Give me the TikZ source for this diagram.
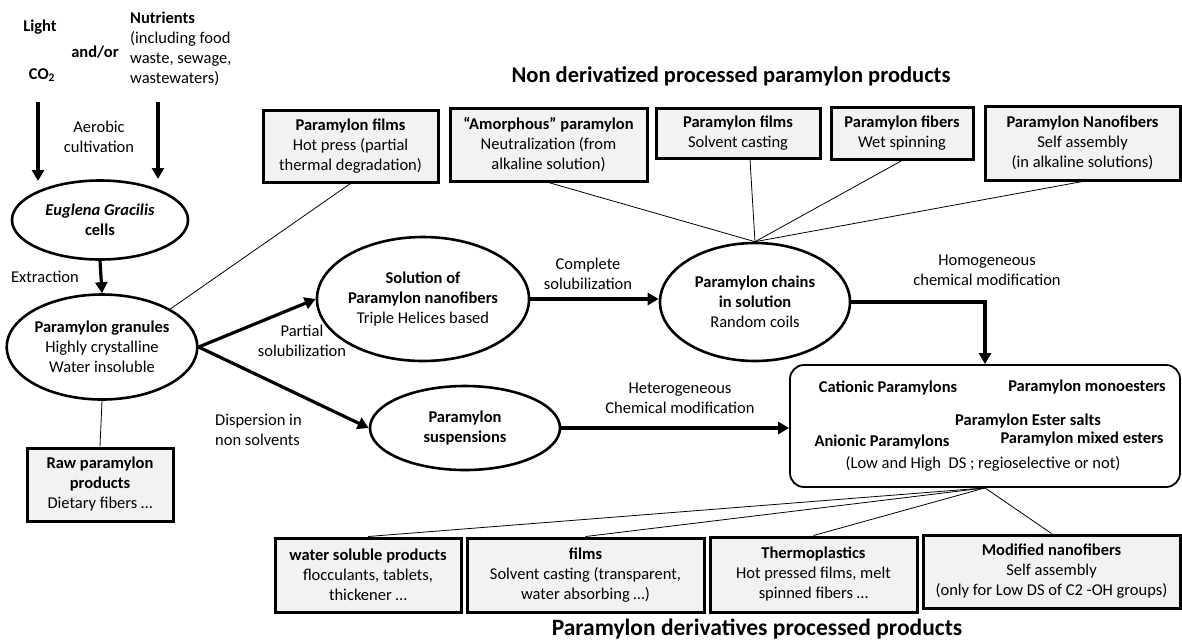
\documentclass[tikz,border=0pt]{standalone}
\usepackage{fontspec}
\setmainfont{Carlito}
\usetikzlibrary{arrows.meta,shapes.geometric,positioning}
\definecolor{boxgray}{HTML}{F2F2F2}

\begin{document}
\begin{tikzpicture}[x=1pt,y=-1pt,
  font=\fontsize{16.5}{20}\selectfont,
  prodbox/.style={rectangle,draw,line width=3pt,fill=boxgray,align=center,inner sep=0pt},
  stage/.style={ellipse,draw,line width=2.6pt,align=center,inner sep=0pt},
  link/.style={line width=0.8pt},
  flow/.style={line width=3.2pt,-{Triangle[length=11pt,width=12pt]}},
  lbl/.style={align=center,inner sep=0pt},
  bold/.style={font=\fontsize{16.5}{20}\selectfont\bfseries},
  heading/.style={font=\fontsize{22.5}{26}\selectfont\bfseries}]
\useasboundingbox (0,0) rectangle (1182,641);

% Culture inputs
\node[lbl,bold] (light) at (40,27) {Light};
\node[lbl,bold] (co2) at (42,75) {CO\textsubscript{2}};
\node[lbl,bold] (andor) at (95,52) {and/or};
\node[lbl,align=left,anchor=north west] (nutr) at (130,12) {\textbf{Nutrients}\\(including food\\waste, sewage,\\wastewaters)};
\coordinate (lightend) at (38,181);
\coordinate (nutend) at (158,179);
\draw[flow] (38,102) -- (lightend);
\draw[flow] (158,102) -- (nutend);
\node[lbl] (aerob) at (99,137) {Aerobic\\cultivation};

% Cells and granules
\node[stage,minimum width=176,minimum height=79] (euglena) at (100,220) {\textbf{\textit{Euglena Gracilis}}\\\textbf{cells}};
\node[stage,minimum width=185,minimum height=105] (granules) at (102,347) {\textbf{Paramylon granules}\\Highly crystalline\\Water insoluble};
\draw[flow] (euglena.south) -- (granules.north);
\node[lbl] (extr) at (45,277) {Extraction};
\node[prodbox,minimum width=146,minimum height=73] (raw) at (100,484.5) {\textbf{Raw paramylon}\\\textbf{products}\\Dietary fibers \dots};
\draw[link] (granules.south) -- (raw.north);

% Intermediate states
\node[stage,minimum width=190,minimum height=124] (solution) at (423,299) {\textbf{Solution of}\\\textbf{Paramylon nanofibers}\\Triple Helices based};
\node[stage,minimum width=190,minimum height=118] (chains) at (755,302) {\textbf{Paramylon chains}\\\textbf{in solution}\\Random coils};
\node[stage,minimum width=190,minimum height=84] (susp) at (465,428) {\textbf{Paramylon}\\\textbf{suspensions}};
\draw[flow] (granules.east) -- (solution.west);
\draw[flow] (granules.east) -- (susp.west);
\draw[flow] (solution.east) -- (solution.east -| chains.west);
\node[lbl] (partsol) at (302,341) {Partial\\solubilization};
\node[lbl,align=left,anchor=west] (disp) at (215,430) {Dispersion in\\non solvents};
\node[lbl] (compsol) at (588,274) {Complete\\solubilization};

% Non derivatized products
\node[lbl,heading] (toptitle) at (731,76) {Non derivatized processed paramylon products};
\node[prodbox,minimum width=175,minimum height=72] (hotfilms) at (350.5,146) {\textbf{Paramylon films}\\Hot press (partial\\thermal degradation)};
\node[prodbox,minimum width=197,minimum height=73] (amorph) at (548.5,144.5) {\textbf{``Amorphous'' paramylon}\\Neutralization (from\\alkaline solution)};
\node[prodbox,minimum width=164,minimum height=50] (castfilms) at (738,133) {\textbf{Paramylon films}\\Solvent casting};
\node[prodbox,minimum width=142,minimum height=52] (fibers) at (902,133) {\textbf{Paramylon fibers}\\Wet spinning};
\node[prodbox,minimum width=195,minimum height=74] (nanofib) at (1082.5,143) {\textbf{Paramylon Nanofibers}\\Self assembly\\(in alkaline solutions)};
\draw[link] (hotfilms.south) -- (granules.north east);
\draw[link] (amorph.south) -- (chains.north);
\draw[link] ([xshift=12]castfilms.south) -- (chains.north);
\draw[link] (fibers.south) -- (chains.north);
\draw[link] (nanofib.south) -- (chains.north);

% Derivatives
\node[rectangle,draw,line width=1.8pt,rounded corners=14pt,minimum width=390,minimum height=122] (deriv) at (985,426) {};
\node[lbl,bold] (cation) at (888,388) {Cationic Paramylons};
\node[lbl,bold] (mono) at (1087,387) {Paramylon monoesters};
\node[lbl,bold] (salts) at (1028,421) {Paramylon Ester salts};
\node[lbl,bold] (anion) at (882,442) {Anionic Paramylons};
\node[lbl,bold] (mixed) at (1082,439) {Paramylon mixed esters};
\node[lbl] (ds) at (983,464) {(Low and High\ \ DS ; regioselective or not)};
\draw[flow] (chains.east) -| (deriv.north);
\draw[flow] (susp.east) -- (susp.east -| deriv.west);
\node[lbl] (homog) at (987,270) {Homogeneous\\chemical modification};
\node[lbl] (heterog) at (680,398) {Heterogeneous\\Chemical modification};

% Derivatives processed products
\node[prodbox,minimum width=186,minimum height=74] (wsol) at (368,575) {\textbf{water soluble products}\\flocculants, tablets,\\thickener \dots};
\node[prodbox,minimum width=237,minimum height=74] (films) at (585.5,575) {\textbf{films}\\Solvent casting (transparent,\\water absorbing \dots)};
\node[prodbox,minimum width=207,minimum height=75] (thermo) at (813.5,574.5) {\textbf{Thermoplastics}\\Hot pressed films, melt\\spinned fibers \dots};
\node[prodbox,minimum width=257,minimum height=73] (modnano) at (1051.5,571.5) {\textbf{Modified nanofibers}\\Self assembly\\(only for Low DS of C2 -OH groups)};
\foreach \prod in {wsol,films,thermo,modnano}
  \draw[link] (deriv.south) -- (\prod.north);
\node[lbl,heading,font=\fontsize{23.5}{26}\selectfont\bfseries] (bottitle) at (757,629) {Paramylon derivatives processed products};
\end{tikzpicture}
\end{document}
